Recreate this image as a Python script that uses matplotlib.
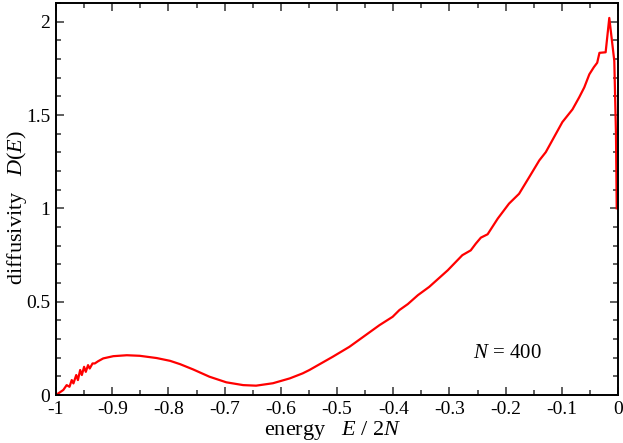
import matplotlib

matplotlib.use("Agg")
import matplotlib.pyplot as plt
from matplotlib.ticker import MultipleLocator

# diffusivity curve D(E)
energy = [
    -1.0, -0.987, -0.981, -0.976, -0.972, -0.969, -0.964, -0.961, -0.957, -0.954,
    -0.950, -0.947, -0.943, -0.940, -0.935, -0.931, -0.925, -0.916, -0.898, -0.874,
    -0.851, -0.821, -0.797, -0.779, -0.756, -0.727, -0.697, -0.667, -0.644, -0.614,
    -0.584, -0.561, -0.549, -0.5075, -0.478, -0.454, -0.4245, -0.401, -0.389, -0.374,
    -0.356, -0.336, -0.303, -0.277, -0.262, -0.253, -0.244, -0.232, -0.214, -0.194,
    -0.176, -0.158, -0.140, -0.1285, -0.099, -0.081, -0.069, -0.060, -0.051, -0.043,
    -0.037, -0.033, -0.022, -0.0155, -0.0066, -0.0036, -0.0023,
]
diffusivity = [
    0.0, 0.027, 0.053, 0.044, 0.080, 0.062, 0.107, 0.080, 0.134, 0.107,
    0.151, 0.124, 0.160, 0.142, 0.169, 0.169, 0.181, 0.196, 0.208, 0.213,
    0.210, 0.198, 0.183, 0.165, 0.137, 0.098, 0.068, 0.053, 0.050, 0.063,
    0.089, 0.116, 0.134, 0.205, 0.258, 0.310, 0.374, 0.419, 0.455, 0.487,
    0.535, 0.579, 0.668, 0.749, 0.775, 0.811, 0.843, 0.861, 0.945, 1.025,
    1.078, 1.167, 1.257, 1.301, 1.462, 1.530, 1.595, 1.648, 1.718, 1.756,
    1.780, 1.833, 1.836, 2.020, 1.790, 1.400, 1.000,
]
x_ticks = [-1, -0.9, -0.8, -0.7, -0.6, -0.5, -0.4, -0.3, -0.2, -0.1, 0]
x_tick_labels = ["-1", "-0.9", "-0.8", "-0.7", "-0.6", "-0.5", "-0.4",
                 "-0.3", "-0.2", "-0.1", "0"]
y_ticks = [0, 0.5, 1, 1.5, 2]
y_tick_labels = ["0", "0.5", "1", "1.5", "2"]
N_LABEL = "$N$ = 400"


def configure_matplotlib() -> None:
    plt.rcParams.update({
        "font.family": "Liberation Serif",
        "mathtext.fontset": "custom",
        "mathtext.rm": "Liberation Serif",
        "mathtext.it": "Liberation Serif:italic",
        "font.size": 14,
    })


def main() -> None:
    configure_matplotlib()
    fig = plt.figure(figsize=(6.23, 4.43), dpi=100)
    ax = fig.add_axes([56 / 623, 1 - 395 / 443, 562 / 623, 392 / 443])

    ax.plot(energy, diffusivity, color="#ff0000", linewidth=1.6)

    ax.set_xlim(-1, 0)
    ax.set_ylim(0, 2.1)
    ax.xaxis.set_minor_locator(MultipleLocator(0.05))
    ax.yaxis.set_minor_locator(MultipleLocator(0.1))
    ax.set_xticks(x_ticks)
    ax.set_xticklabels(x_tick_labels)
    ax.set_yticks(y_ticks)
    ax.set_yticklabels(y_tick_labels)
    ax.tick_params(which="both", direction="in", top=True, right=True,
                   color="#333333", width=1.1, labelsize=14)
    ax.tick_params(which="major", length=6)
    ax.tick_params(axis="x", which="major", pad=4)
    ax.tick_params(axis="y", which="major", pad=4)
    ax.tick_params(which="minor", length=3.5)
    for spine in ax.spines.values():
        spine.set_linewidth(1.4)

    # axis titles placed in figure pixels to match the reference layout
    fig.text(333 / 623, 1 - 435 / 443, "energy   $E$ / 2$N$", fontsize=16,
             ha="center", va="baseline")
    fig.text(17 / 623, 1 - 208 / 443, "diffusivity   $D$($E$)", fontsize=16,
             ha="center", va="center", rotation=90)
    ax.text(-0.258, 0.2, N_LABEL, fontsize=15, ha="left", va="baseline")

    fig.savefig("out.png", dpi=100)


if __name__ == "__main__":
    main()
